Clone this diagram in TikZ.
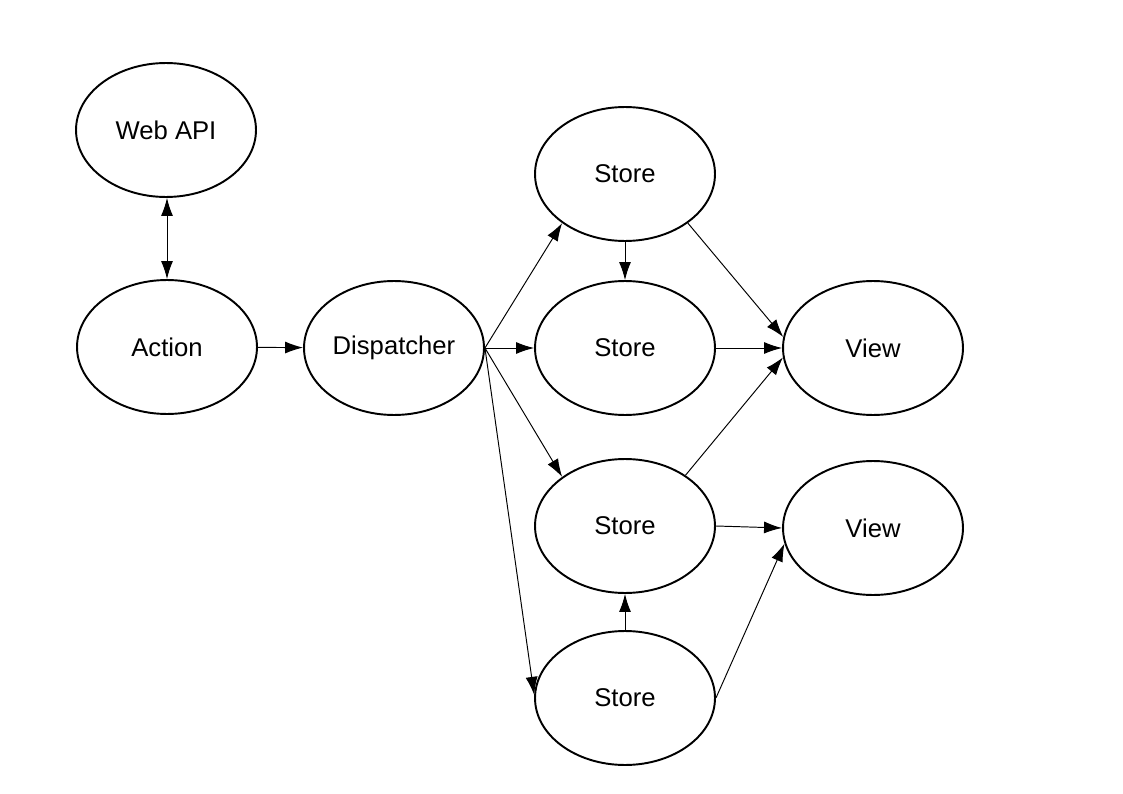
\documentclass[tikz,border=0pt]{standalone}
\usepackage{fontspec}
\setmainfont{Liberation Sans}
\usetikzlibrary{shapes.geometric,arrows.meta}

\begin{document}
\begin{tikzpicture}[x = 0.02cm, y = -0.02cm,
    bubble/.style = {draw, ellipse, line width = 1.1pt, inner sep = 0pt,
                     minimum width = 3.6cm, minimum height = 2.68cm,
                     font = \fontsize{14.6}{17}\selectfont},
    tip/.tip = {Latex[length = 0.36cm, width = 0.24cm]},
    link/.style = {line width = 0.55pt, -tip}]
          \useasboundingbox (0,0) rectangle (1123,794);

          \node[bubble] at (166, 130) (web)  {Web API};
          \node[bubble] at (167, 347) (act)  {Action};
          \node[bubble] at (394, 348) (disp) {Dispatcher};
          \node[bubble] at (625, 174) (s1)   {Store};
          \node[bubble] at (625, 348) (s2)   {Store};
          \node[bubble] at (625, 526) (s3)   {Store};
          \node[bubble] at (625, 698) (s4)   {Store};
          \node[bubble] at (873, 348) (v1)   {View};
          \node[bubble] at (873, 528) (v2)   {View};

          \draw[link, tip-tip] (web.south -| act) -- (act);
          \draw[link] (act) -- (disp);
          \draw[link] (disp.east) -- (s1.218);
          \draw[link] (disp.east) -- (s2);
          \draw[link] (disp.east) -- (s3.142);
          \draw[link] (disp.east) -- (s4.178);
          \draw[link] (s1) -- (s2);
          \draw[link] (s4) -- (s3);
          \draw[link] (s1.-38) -- (v1.173);
          \draw[link] (s2) -- (v1);
          \draw[link] (s3.40) -- (v1.186);
          \draw[link] (s3.east) -- (v2.west);
          \draw[link] (s4.east) -- (v2.190);
        \end{tikzpicture}
\end{document}
